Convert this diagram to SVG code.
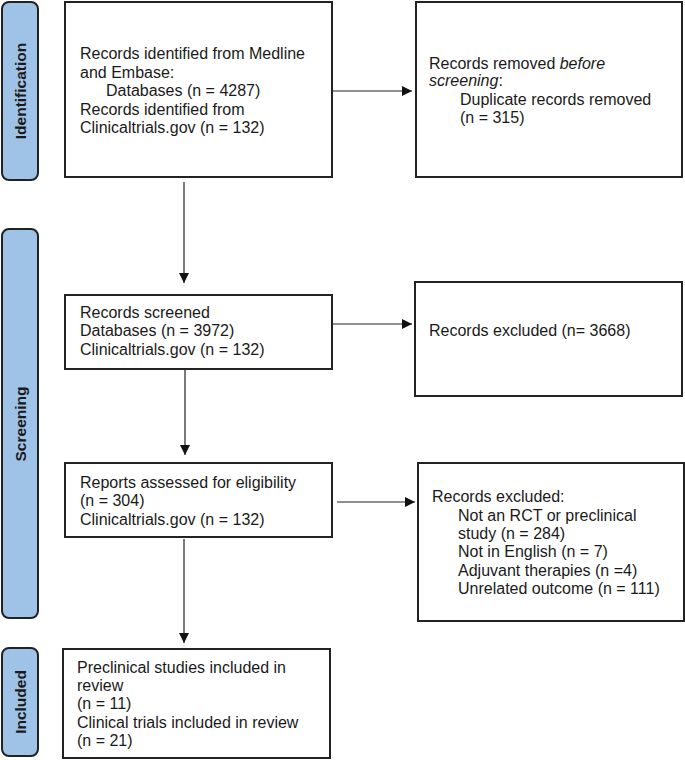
<svg xmlns="http://www.w3.org/2000/svg" width="685" height="760" viewBox="0 0 685 760">
<style>
.box{fill:#ffffff;stroke:#222;stroke-width:2}
.lab{fill:#9fc3e7;stroke:#222;stroke-width:2}
.t{font-family:"Liberation Sans",Arial,sans-serif;font-size:16px;fill:#1a1a1a}
.lt{font-family:"Liberation Sans",Arial,sans-serif;font-size:15.5px;font-weight:bold;fill:#1a1a1a}
.c{stroke:#222;stroke-width:1.2;fill:none}
</style>
<defs>
<marker id="ah" markerWidth="10" markerHeight="10" refX="10" refY="5" orient="auto" markerUnits="userSpaceOnUse">
<path d="M0,0 L10,5 L0,10 Z" fill="#111"/>
</marker>
</defs>
<rect width="685" height="760" fill="#fff"/>
<g id="label-identification">
<rect class="lab" x="2" y="2" width="36" height="178" rx="7"/>
<text class="lt" transform="translate(25.5,91) rotate(-90)" text-anchor="middle">Identification</text>
</g>
<g id="label-screening">
<rect class="lab" x="2" y="229" width="36" height="389" rx="7"/>
<text class="lt" transform="translate(25.5,424) rotate(-90)" text-anchor="middle">Screening</text>
</g>
<g id="label-included">
<rect class="lab" x="2" y="648" width="36" height="108" rx="7"/>
<text class="lt" transform="translate(25.5,702) rotate(-90)" text-anchor="middle">Included</text>
</g>
<g id="connectors">
<line class="c" x1="333" y1="91" x2="412" y2="91" marker-end="url(#ah)"/>
<line class="c" x1="184" y1="182" x2="184" y2="283" marker-end="url(#ah)"/>
<line class="c" x1="333" y1="324" x2="412" y2="324" marker-end="url(#ah)"/>
<line class="c" x1="185" y1="370" x2="185" y2="455" marker-end="url(#ah)"/>
<line class="c" x1="337" y1="502" x2="415" y2="502" marker-end="url(#ah)"/>
<line class="c" x1="184" y1="539" x2="184" y2="643" marker-end="url(#ah)"/>
</g>
<g id="node-identified">
<rect class="box" x="65" y="2" width="267" height="175"/>
<text class="t" x="80" y="59">Records identified from Medline</text>
<text class="t" x="80" y="78">and Embase:</text>
<text class="t" x="106" y="96">Databases (n = 4287)</text>
<text class="t" x="80" y="115">Records identified from</text>
<text class="t" x="80" y="133">Clinicaltrials.gov (n = 132)</text>
</g>
<g id="node-removed">
<rect class="box" x="416" y="2" width="266" height="175"/>
<text class="t" x="429" y="69">Records removed <tspan font-style="italic">before</tspan></text>
<text class="t" x="429" y="86"><tspan font-style="italic">screening</tspan>:</text>
<text class="t" x="460" y="105">Duplicate records removed</text>
<text class="t" x="460" y="123">(n = 315)</text>
</g>
<g id="node-screened">
<rect class="box" x="65" y="295" width="267" height="74"/>
<text class="t" x="80" y="318">Records screened</text>
<text class="t" x="80" y="336">Databases (n = 3972)</text>
<text class="t" x="80" y="355">Clinicaltrials.gov (n = 132)</text>
</g>
<g id="node-excluded1">
<rect class="box" x="415" y="282" width="267" height="114"/>
<text class="t" x="429" y="336">Records excluded (n= 3668)</text>
</g>
<g id="node-assessed">
<rect class="box" x="65" y="463" width="267" height="74"/>
<text class="t" x="80" y="488">Reports assessed for eligibility</text>
<text class="t" x="80" y="506">(n = 304)</text>
<text class="t" x="80" y="525">Clinicaltrials.gov (n = 132)</text>
</g>
<g id="node-excluded2">
<rect class="box" x="418" y="463" width="266" height="158"/>
<text class="t" x="432" y="502">Records excluded:</text>
<text class="t" x="458" y="521">Not an RCT or preclinical</text>
<text class="t" x="458" y="539">study (n = 284)</text>
<text class="t" x="458" y="557">Not in English (n = 7)</text>
<text class="t" x="458" y="576">Adjuvant therapies (n =4)</text>
<text class="t" x="458" y="594">Unrelated outcome (n = 111)</text>
</g>
<g id="node-included">
<rect class="box" x="63" y="649" width="267" height="109"/>
<text class="t" x="77" y="673">Preclinical studies included in</text>
<text class="t" x="77" y="691">review</text>
<text class="t" x="77" y="709">(n = 11)</text>
<text class="t" x="77" y="728">Clinical trials included in review</text>
<text class="t" x="77" y="746">(n = 21)</text>
</g>
</svg>
